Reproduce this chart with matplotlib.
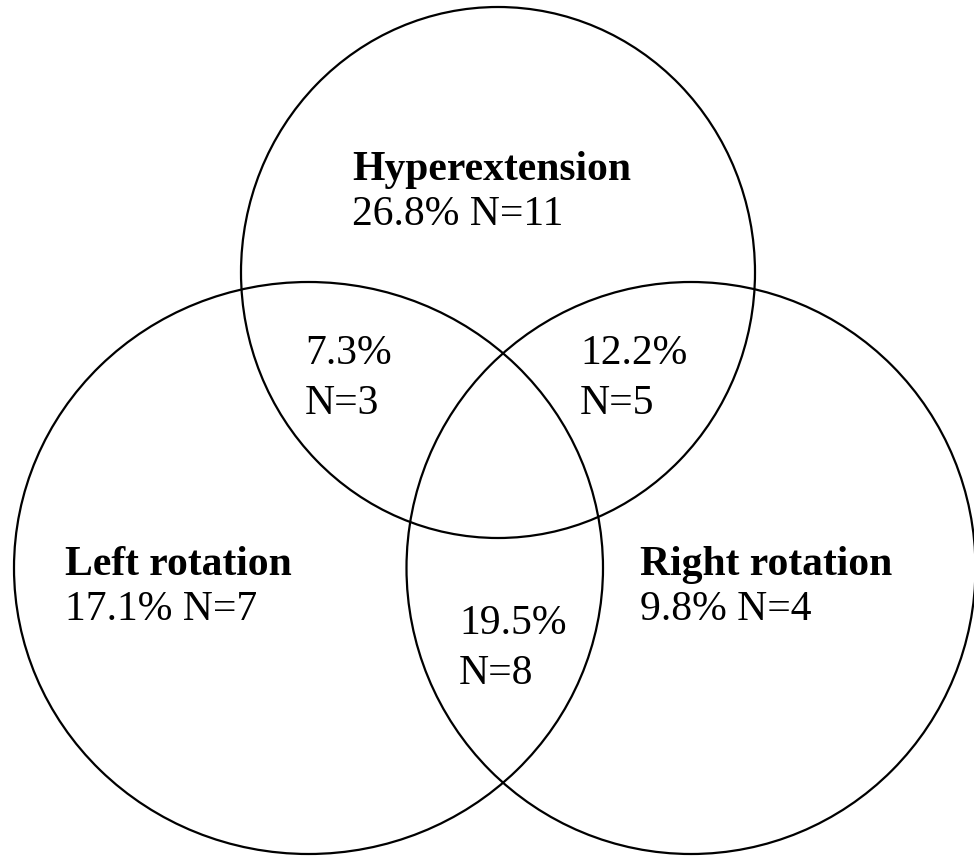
import matplotlib
matplotlib.use("Agg")
import matplotlib.pyplot as plt
from matplotlib.patches import Ellipse

# Data
set_names = ["Hyperextension", "Left rotation", "Right rotation"]
set_pcts = ["26.8%", "17.1%", "9.8%"]
set_ns = [11, 7, 4]
overlap_pcts = ["7.3%", "12.2%", "19.5%"]   # H&L, H&R, L&R
overlap_ns = [3, 5, 8]

# Layout (pixel coordinates)
circles = [(498, 272.5, 514, 531), (308.5, 568, 589, 572), (691, 568, 569, 572)]
name_pos = [(352, 180), (65, 575), (640, 575)]
ov_pos = [(305, 364), (580, 364), (459, 634)]

fig = plt.figure(figsize=(9.74, 8.56), dpi=100)
ax = fig.add_axes([0, 0, 1, 1])
ax.set_xlim(0, 974)
ax.set_ylim(856, 0)
ax.axis("off")

for (cx, cy, w, h) in circles:
    ax.add_patch(Ellipse((cx, cy), w, h, fill=False, edgecolor="black", linewidth=1.6))

font = "Liberation Serif"
fs = 30
for (x, y), name, p, n in zip(name_pos, set_names, set_pcts, set_ns):
    ax.text(x, y, name, fontsize=fs, fontweight="bold", family=font, va="baseline", ha="left")
    ax.text(x, y + 45, f"{p} N={n}", fontsize=fs, family=font, va="baseline", ha="left")

for (x, y), p, n in zip(ov_pos, overlap_pcts, overlap_ns):
    ax.text(x, y, p, fontsize=fs, family=font, va="baseline", ha="left")
    ax.text(x, y + 50, f"N={n}", fontsize=fs, family=font, va="baseline", ha="left")

fig.savefig("out.png", dpi=100, facecolor="white")
